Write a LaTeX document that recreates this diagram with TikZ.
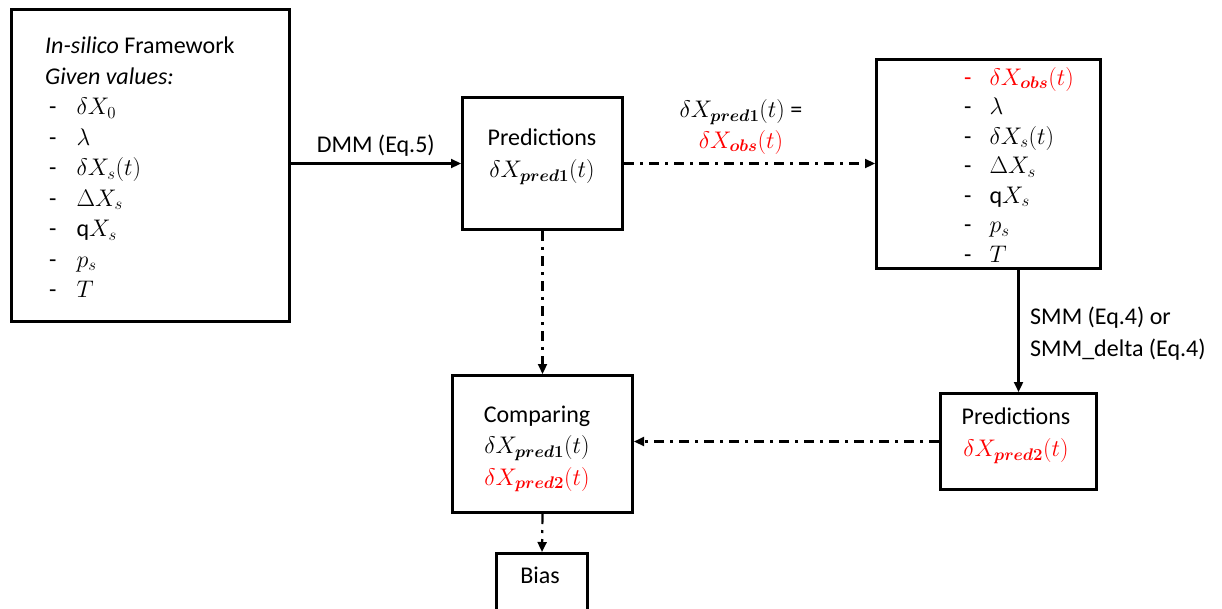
\RequirePackage{fix-cm}
\documentclass[tikz,border=0pt]{standalone}
\usepackage{amsmath}
\usepackage{fontspec}
\setmainfont{Carlito}
\usetikzlibrary{arrows.meta}
\definecolor{redtxt}{RGB}{255,0,0}
\newcommand{\dXp}[1]{\delta X_{\boldsymbol{#1}}}
\begin{document}
\begin{tikzpicture}[x=1pt,y=-1pt,
  box/.style={draw=black, line width=3pt, inner sep=0pt},
  solidarrow/.style={line width=2.2pt, -{Triangle[length=10pt,width=9pt]}},
  dasharrow/.style={line width=2.2pt, dash pattern=on 10pt off 6pt on 3pt off 6pt, -{Triangle[length=10pt,width=9pt]}},
  txt/.style={font=\fontsize{24}{30.5}\selectfont, inner sep=0pt}
]
\useasboundingbox (0,0) rectangle (1222,608);

\node[box, minimum width=278pt, minimum height=312pt] (frame) at (150,165) {};
\node[box, minimum width=160pt, minimum height=132pt] (pred1) at (542.5,163.5) {};
\node[box, minimum width=224pt, minimum height=209pt] (obs) at (988.5,164) {};
\node[box, minimum width=180pt, minimum height=137pt] (comp) at (542.5,444) {};
\node[box, minimum width=156pt, minimum height=96pt] (pred2) at (1018.5,441.5) {};
\node[box, minimum width=91pt, minimum height=70pt] (bias) at (542,588.5) {};

\node[txt, anchor=north west] (frametxt) at (45,32) {\begin{tabular}{@{}l@{\hspace{20pt}}l@{}}
\multicolumn{2}{@{}l@{}}{\textit{In-silico} Framework}\\
\multicolumn{2}{@{}l@{}}{\textit{Given values:}}\\
\hspace{4pt}- & $\delta X_0$\\
\hspace{4pt}- & $\lambda$\\
\hspace{4pt}- & $\delta X_s(t)$\\
\hspace{4pt}- & $\Delta X_s$\\
\hspace{4pt}- & $\mathrm{q}X_s$\\
\hspace{4pt}- & $p_s$\\
\hspace{4pt}- & $T$
\end{tabular}};

\node[txt, anchor=north west, font=\fontsize{24}{29.5}\selectfont] (obstxt) at (964,64.5) {\begin{tabular}{@{}l@{\hspace{18pt}}l@{}}
\textcolor{redtxt}{-} & \textcolor{redtxt}{$\dXp{obs}(t)$}\\
- & $\lambda$\\
- & $\delta X_s(t)$\\
- & $\Delta X_s$\\
- & $\mathrm{q}X_s$\\
- & $p_s$\\
- & $T$
\end{tabular}};

\node[txt, align=center, font=\fontsize{24}{32}\selectfont] (pred1txt) at (542,157) {Predictions\\ $\dXp{pred1}(t)$};
\node[txt, align=center, font=\fontsize{24}{31.5}\selectfont] (comptxt) at (537,449) {Comparing\\ $\dXp{pred1}(t)$\\ \textcolor{redtxt}{$\dXp{pred2}(t)$}};
\node[txt, align=center, font=\fontsize{24}{32}\selectfont] (pred2txt) at (1016,436) {Predictions\\ \textcolor{redtxt}{$\dXp{pred2}(t)$}};
\node[txt] (biastxt) at (540,575) {Bias};

\draw[solidarrow] (frame.east |- pred1.west) -- node[txt, above=6pt] (dmm) {DMM (Eq.5)} (pred1.west);
\draw[dasharrow] (pred1.east) -- (obs.west |- pred1.east);
\node[txt, align=center, font=\fontsize{24}{30.5}\selectfont] (eqlabel) at (741,127) {$\dXp{pred1}(t)$ =\\ \textcolor{redtxt}{$\dXp{obs}(t)$}};
\draw[solidarrow] (obs.south -| pred2.north) -- (pred2.north);
\node[txt, anchor=west, align=left, font=\fontsize{24}{32}\selectfont] (smm) at (1030,334) {SMM (Eq.4) or\\ SMM\_delta (Eq.4)};
\draw[dasharrow] (pred2.west) -- (comp.east |- pred2.west);
\draw[dasharrow] (pred1.south) -- (comp.north);
\draw[dasharrow] (comp.south) -- (bias.north);
\end{tikzpicture}
\end{document}
